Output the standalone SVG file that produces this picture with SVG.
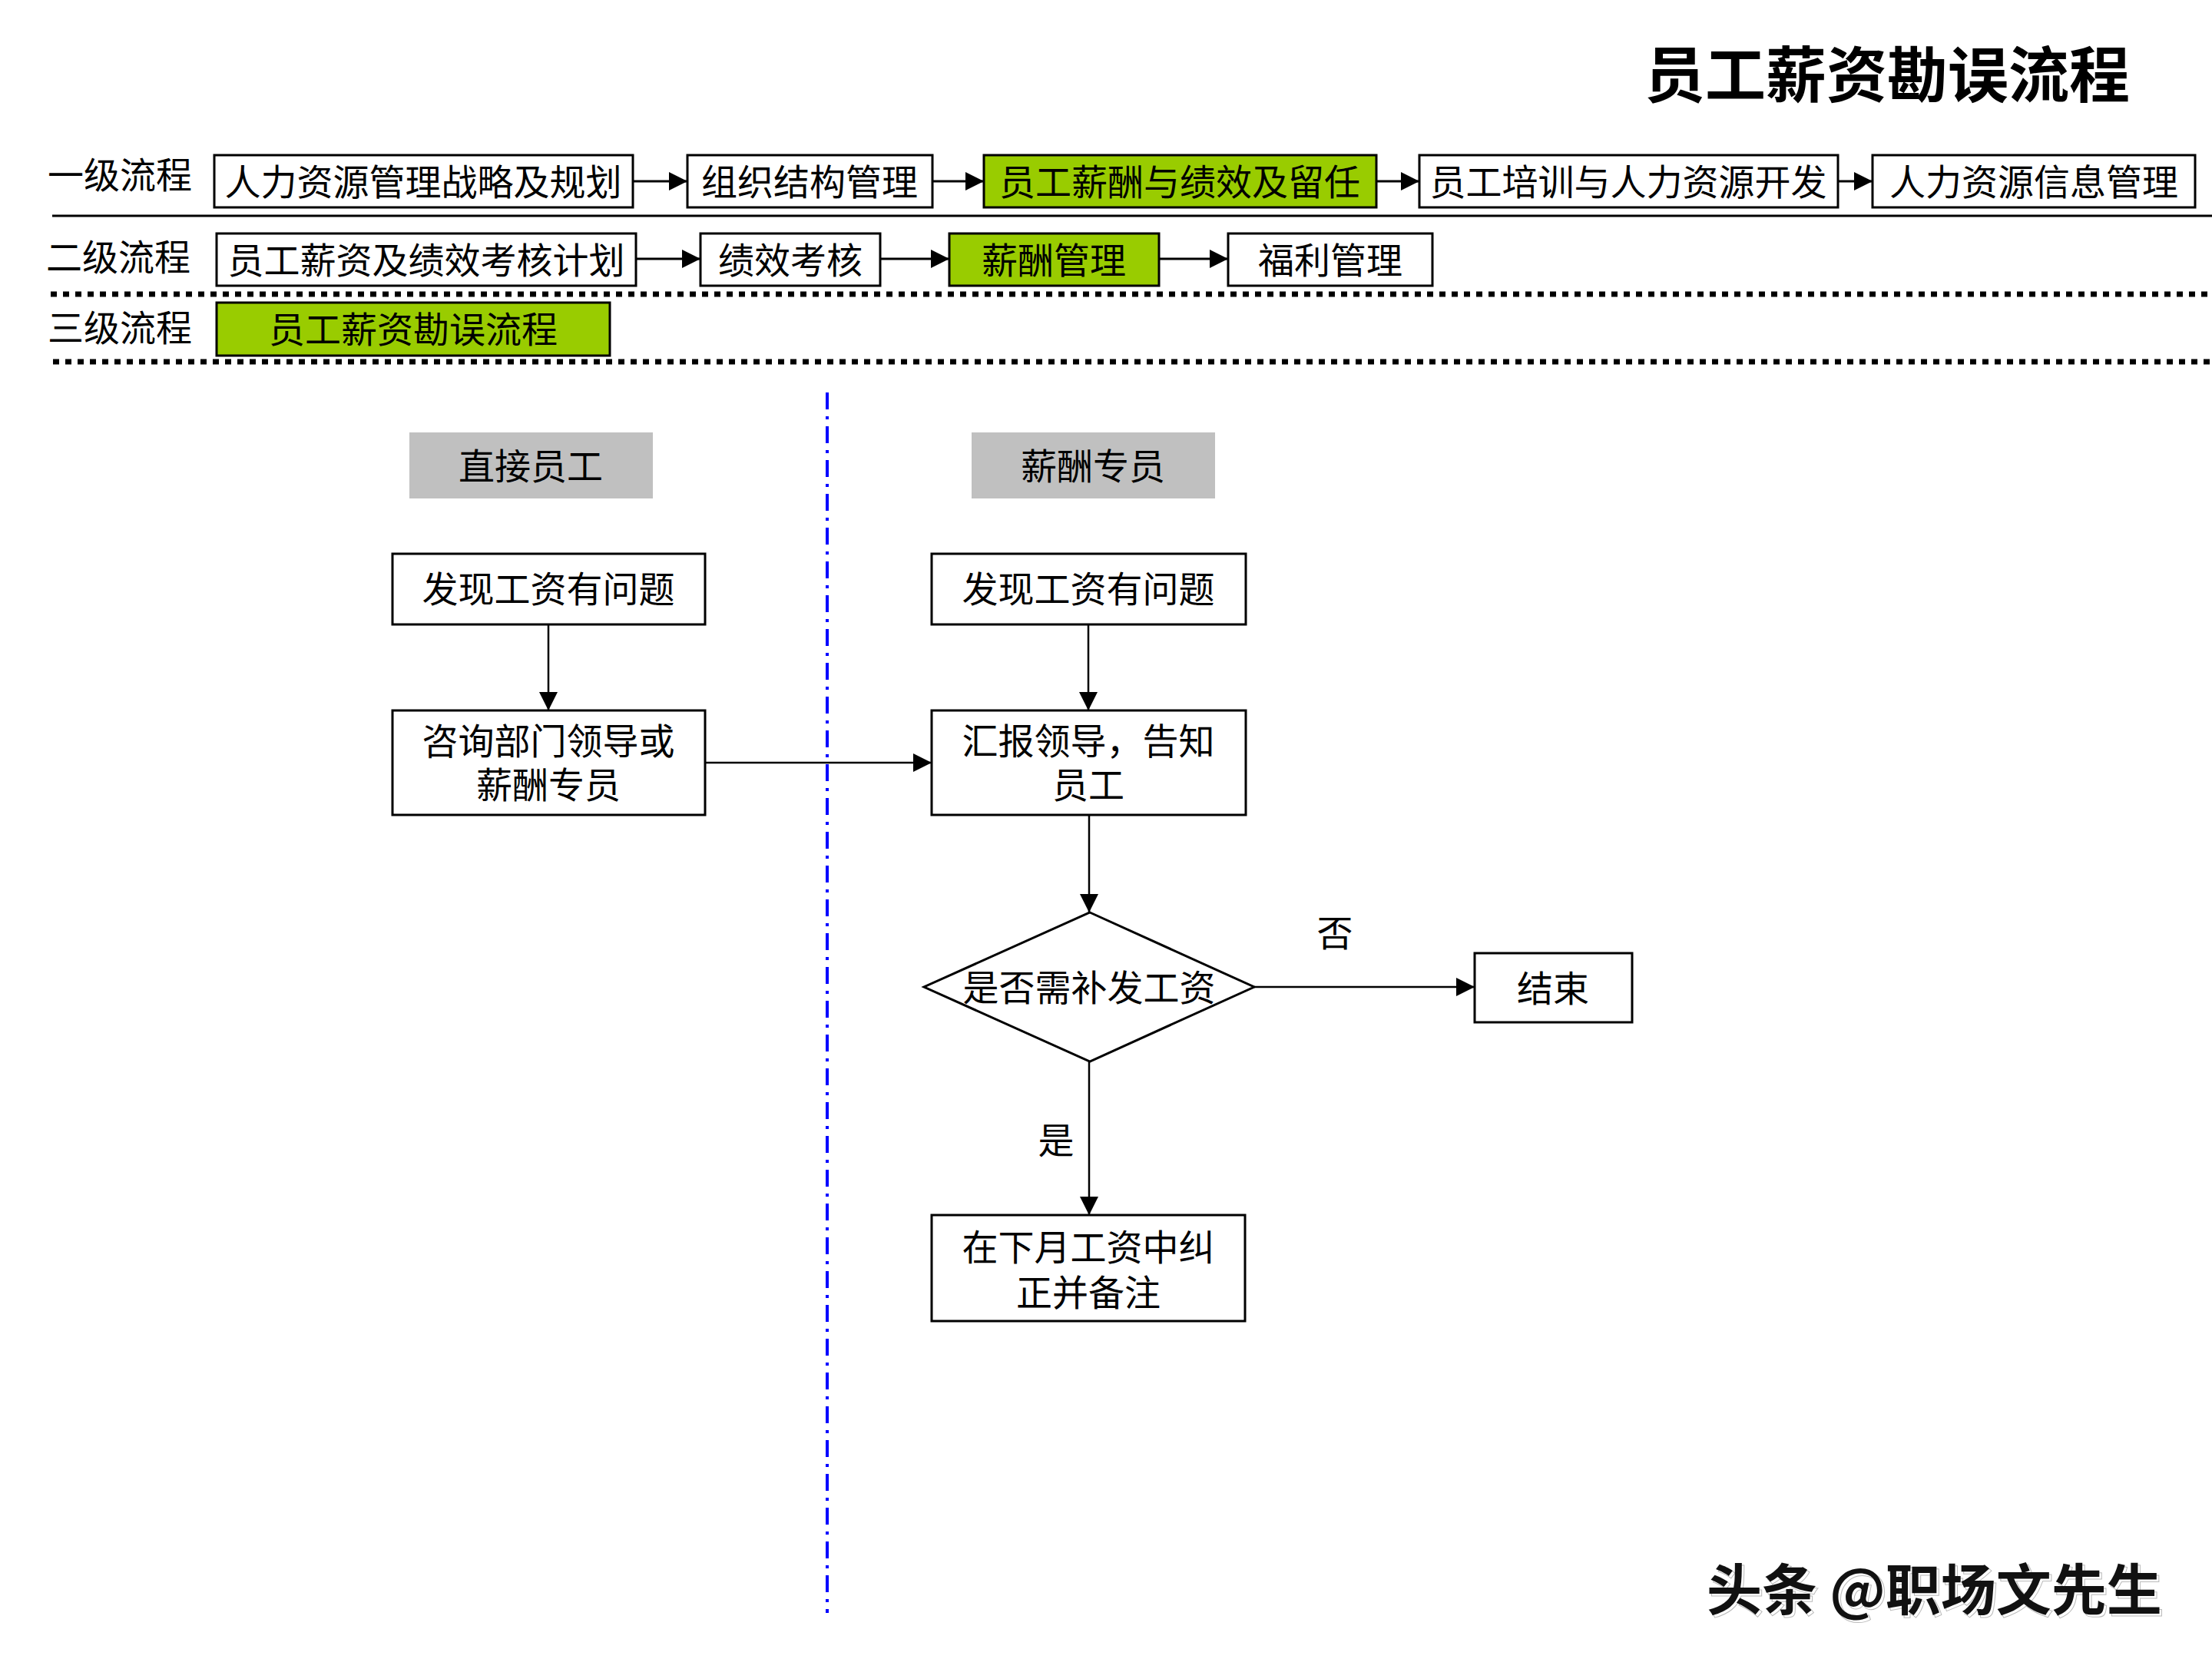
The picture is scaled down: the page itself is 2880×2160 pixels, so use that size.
<svg xmlns="http://www.w3.org/2000/svg" width="2880" height="2160" viewBox="0 0 2880 2160">
<style>
text{font-family:"Noto Sans CJK SC","Noto Sans",sans-serif;fill:#000;dominant-baseline:central;text-anchor:middle}
.t{font-size:47px}
.lbl{font-size:47px;text-anchor:start}
.title{font-size:79px;font-weight:bold}
.box{fill:#fff;stroke:#000;stroke-width:3}
.gbox{fill:#99CC00;stroke:#000;stroke-width:3}
.lane{fill:#C0C0C0}
.c{stroke:#000;stroke-width:3;fill:none}
.c2{stroke:#000;stroke-width:2.5;fill:none}
</style>
<defs>
<marker id="ah" markerUnits="userSpaceOnUse" markerWidth="26" markerHeight="24" refX="24" refY="12" orient="auto">
<path d="M0,0 L24,12 L0,24 z" fill="#000"/>
</marker>
</defs>
<rect width="2880" height="2160" fill="#fff"/>

<g id="title"><text class="title" x="2457" y="92">员工薪资勘误流程</text></g>

<g id="levels">
<text class="lbl" x="62" y="224">一级流程</text>
<text class="lbl" x="60" y="331">二级流程</text>
<text class="lbl" x="62" y="423">三级流程</text>
<line x1="68" y1="281" x2="2880" y2="281" stroke="#000" stroke-width="3"/>
<line x1="66" y1="383" x2="2880" y2="383" stroke="#000" stroke-width="7" stroke-dasharray="8 8"/>
<line x1="69" y1="471" x2="2880" y2="471" stroke="#000" stroke-width="7" stroke-dasharray="8 8"/>
</g>

<g id="l1-1"><rect class="box" x="279" y="202" width="545" height="68"/><text class="t" x="551" y="233">人力资源管理战略及规划</text></g>
<g id="l1-2"><rect class="box" x="895" y="202" width="319" height="68"/><text class="t" x="1054" y="233">组织结构管理</text></g>
<g id="l1-3"><rect class="gbox" x="1281" y="202" width="511" height="68"/><text class="t" x="1536" y="233">员工薪酬与绩效及留任</text></g>
<g id="l1-4"><rect class="box" x="1848" y="202" width="545" height="68"/><text class="t" x="2120" y="233">员工培训与人力资源开发</text></g>
<g id="l1-5"><rect class="box" x="2438" y="202" width="420" height="68"/><text class="t" x="2648" y="233">人力资源信息管理</text></g>

<g id="l2-1"><rect class="box" x="282" y="304" width="546" height="68"/><text class="t" x="555" y="335">员工薪资及绩效考核计划</text></g>
<g id="l2-2"><rect class="box" x="912" y="304" width="234" height="68"/><text class="t" x="1029" y="335">绩效考核</text></g>
<g id="l2-3"><rect class="gbox" x="1236" y="304" width="273" height="68"/><text class="t" x="1372" y="335">薪酬管理</text></g>
<g id="l2-4"><rect class="box" x="1599" y="304" width="266" height="68"/><text class="t" x="1732" y="335">福利管理</text></g>

<g id="l3-1"><rect class="gbox" x="282" y="394" width="512" height="69"/><text class="t" x="538" y="425">员工薪资勘误流程</text></g>

<g id="lanes">
<rect class="lane" x="533" y="563" width="317" height="86"/><text class="t" x="691" y="603">直接员工</text>
<rect class="lane" x="1265" y="563" width="317" height="86"/><text class="t" x="1423" y="603">薪酬专员</text>
<line x1="1077" y1="511" x2="1077" y2="2100" stroke="#0000FF" stroke-width="4" stroke-dasharray="22 9 4 9"/>
</g>

<g id="a1"><rect class="box" x="511" y="721" width="407" height="92"/><text class="t" x="714" y="763">发现工资有问题</text></g>
<g id="a2"><rect class="box" x="511" y="925" width="407" height="136"/><text class="t" x="714" y="961">咨询部门领导或<tspan x="714" dy="57">薪酬专员</tspan></text></g>
<g id="b1"><rect class="box" x="1213" y="721" width="409" height="92"/><text class="t" x="1417" y="763">发现工资有问题</text></g>
<g id="b2"><rect class="box" x="1213" y="925" width="409" height="136"/><text class="t" x="1417" y="961">汇报领导，告知<tspan x="1417" dy="57">员工</tspan></text></g>
<g id="d1"><polygon points="1419,1188 1633,1285 1419,1382 1203,1285" fill="#fff" stroke="#000" stroke-width="3"/><text class="t" x="1418" y="1282">是否需补发工资</text></g>
<g id="end"><rect class="box" x="1920" y="1241" width="205" height="90"/><text class="t" x="2022" y="1283">结束</text></g>
<g id="b3"><rect class="box" x="1213" y="1582" width="408" height="138"/><text class="t" x="1417" y="1620">在下月工资中纠<tspan x="1417" dy="59">正并备注</tspan></text></g>

<g id="connectors">
<line class="c" x1="824" y1="236" x2="895" y2="236" marker-end="url(#ah)"/>
<line class="c" x1="1214" y1="236" x2="1281" y2="236" marker-end="url(#ah)"/>
<line class="c" x1="1792" y1="236" x2="1848" y2="236" marker-end="url(#ah)"/>
<line class="c" x1="2393" y1="236" x2="2438" y2="236" marker-end="url(#ah)"/>
<line class="c" x1="828" y1="337" x2="912" y2="337" marker-end="url(#ah)"/>
<line class="c" x1="1146" y1="337" x2="1236" y2="337" marker-end="url(#ah)"/>
<line class="c" x1="1509" y1="337" x2="1599" y2="337" marker-end="url(#ah)"/>
<line class="c2" x1="714" y1="813" x2="714" y2="925" marker-end="url(#ah)"/>
<line class="c2" x1="1417" y1="813" x2="1417" y2="925" marker-end="url(#ah)"/>
<line class="c2" x1="918" y1="993" x2="1213" y2="993" marker-end="url(#ah)"/>
<line class="c2" x1="1418" y1="1061" x2="1418" y2="1188" marker-end="url(#ah)"/>
<line class="c2" x1="1633" y1="1285" x2="1920" y2="1285" marker-end="url(#ah)"/>
<line class="c2" x1="1418" y1="1382" x2="1418" y2="1582" marker-end="url(#ah)"/>
<text class="t" x="1738" y="1211">否</text>
<text class="t" x="1375" y="1481">是</text>
</g>

<g id="watermark"><text x="2222" y="2064" style="font-size:72px;font-weight:bold;text-anchor:start;fill:#fff;stroke:#bbb;stroke-width:1" transform="translate(3,3)">头条 @职场文先生</text><text x="2222" y="2064" style="font-size:72px;font-weight:bold;text-anchor:start;fill:#111">头条 @职场文先生</text></g>
</svg>
